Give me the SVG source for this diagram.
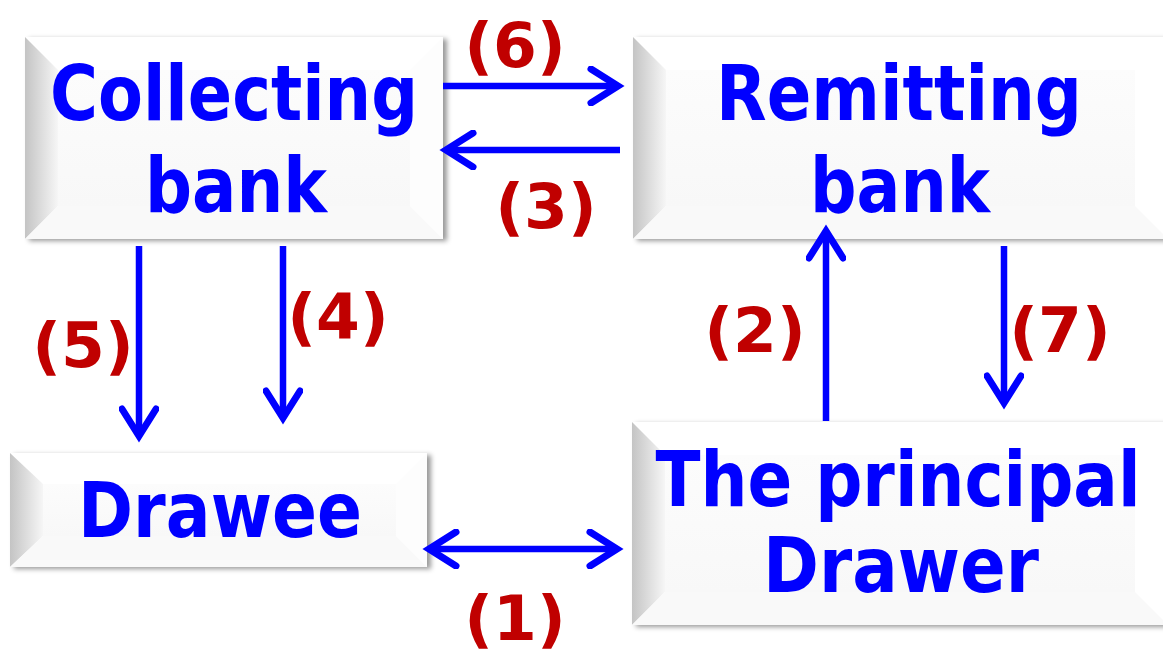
<svg xmlns="http://www.w3.org/2000/svg" width="1163" height="651" viewBox="0 0 1163 651">
<defs>
<linearGradient id="lb" x1="0" y1="0" x2="1" y2="0"><stop offset="0" stop-color="#c4c4c4"/><stop offset="1" stop-color="#f6f6f6"/></linearGradient>
<linearGradient id="face" x1="0" y1="0" x2="0" y2="1"><stop offset="0" stop-color="#fcfcfc"/><stop offset="1" stop-color="#f8f8f8"/></linearGradient>
<filter id="sh" x="-5%" y="-10%" width="115%" height="125%"><feDropShadow dx="4" dy="2" stdDeviation="2.5" flood-color="#000" flood-opacity="0.4"/></filter>
<marker id="ah" viewBox="0 0 40 40" refX="32" refY="20" markerWidth="40" markerHeight="40" markerUnits="userSpaceOnUse" orient="auto-start-reverse">
<path d="M5 3 L32 20 L5 37" fill="none" stroke="#0000ff" stroke-width="7" stroke-linecap="round" stroke-linejoin="miter"/>
</marker>
</defs>
<style>
.nt{font-family:"DejaVu Sans",sans-serif;font-weight:bold;font-size:76px;fill:#0000ff;text-anchor:middle}
.lb{font-family:"DejaVu Sans",sans-serif;font-weight:bold;font-size:63px;fill:#c00000;text-anchor:middle}
.cn{stroke:#0000ff;stroke-width:6.5;fill:none}
</style>
<rect width="1163" height="651" fill="#ffffff"/>

<g id="collecting">
<rect x="25" y="37" width="418" height="202" fill="#ffffff" filter="url(#sh)"/>
<polygon points="25,37 58,70 58,206 25,239" fill="url(#lb)"/>
<polygon points="443,37 410,70 410,206 443,239" fill="#fdfdfd"/>
<polygon points="25,239 58,206 410,206 443,239" fill="#f9f9f9"/>
<rect x="58" y="70" width="352" height="136" fill="url(#face)"/>
<text class="nt" x="234" y="120" textLength="368" lengthAdjust="spacingAndGlyphs">Collecting</text>
<text class="nt" x="236" y="212" textLength="182" lengthAdjust="spacingAndGlyphs">bank</text>
</g>

<g id="remitting">
<rect x="633" y="37" width="535" height="202" fill="#ffffff" filter="url(#sh)"/>
<polygon points="633,37 666,70 666,206 633,239" fill="url(#lb)"/>
<polygon points="633,239 666,206 1135,206 1168,239" fill="#f9f9f9"/>
<rect x="666" y="70" width="469" height="136" fill="url(#face)"/>
<text class="nt" x="899" y="120" textLength="366" lengthAdjust="spacingAndGlyphs">Remitting</text>
<text class="nt" x="900" y="212" textLength="180" lengthAdjust="spacingAndGlyphs">bank</text>
</g>

<g id="drawee">
<rect x="10" y="453" width="417" height="114" fill="#ffffff" filter="url(#sh)"/>
<polygon points="10,453 43,484 43,536 10,567" fill="url(#lb)"/>
<polygon points="427,453 396,484 396,536 427,567" fill="#fdfdfd"/>
<polygon points="10,567 43,536 396,536 427,567" fill="#f9f9f9"/>
<rect x="43" y="484" width="353" height="52" fill="url(#face)"/>
<text class="nt" x="220" y="537" textLength="284" lengthAdjust="spacingAndGlyphs">Drawee</text>
</g>

<g id="drawer">
<rect x="632" y="422" width="536" height="203" fill="#ffffff" filter="url(#sh)"/>
<polygon points="632,422 665,455 665,592 632,625" fill="url(#lb)"/>
<polygon points="632,625 665,592 1135,592 1168,625" fill="#f9f9f9"/>
<rect x="665" y="455" width="470" height="137" fill="url(#face)"/>
<text class="nt" x="898" y="506" textLength="485" lengthAdjust="spacingAndGlyphs">The principal</text>
<text class="nt" x="901" y="592" textLength="276" lengthAdjust="spacingAndGlyphs">Drawer</text>
</g>

<g id="connectors">
<line class="cn" x1="443" y1="86" x2="618" y2="86" marker-end="url(#ah)"/>
<line class="cn" x1="620" y1="150" x2="446" y2="150" marker-end="url(#ah)"/>
<line class="cn" x1="139" y1="246" x2="139" y2="436" marker-end="url(#ah)"/>
<line class="cn" x1="283" y1="246" x2="283" y2="418" marker-end="url(#ah)"/>
<line class="cn" x1="826" y1="421" x2="826" y2="231" marker-end="url(#ah)"/>
<line class="cn" x1="1004" y1="246" x2="1004" y2="403" marker-end="url(#ah)"/>
<line class="cn" x1="429" y1="549" x2="617" y2="549" marker-start="url(#ah)" marker-end="url(#ah)"/>
</g>

<g id="labels">
<text class="lb" x="515" y="67">(6)</text>
<text class="lb" x="546" y="228">(3)</text>
<text class="lb" x="338" y="338">(4)</text>
<text class="lb" x="83" y="367">(5)</text>
<text class="lb" x="755" y="352">(2)</text>
<text class="lb" x="1060" y="352">(7)</text>
<text class="lb" x="515" y="640">(1)</text>
</g>
</svg>
